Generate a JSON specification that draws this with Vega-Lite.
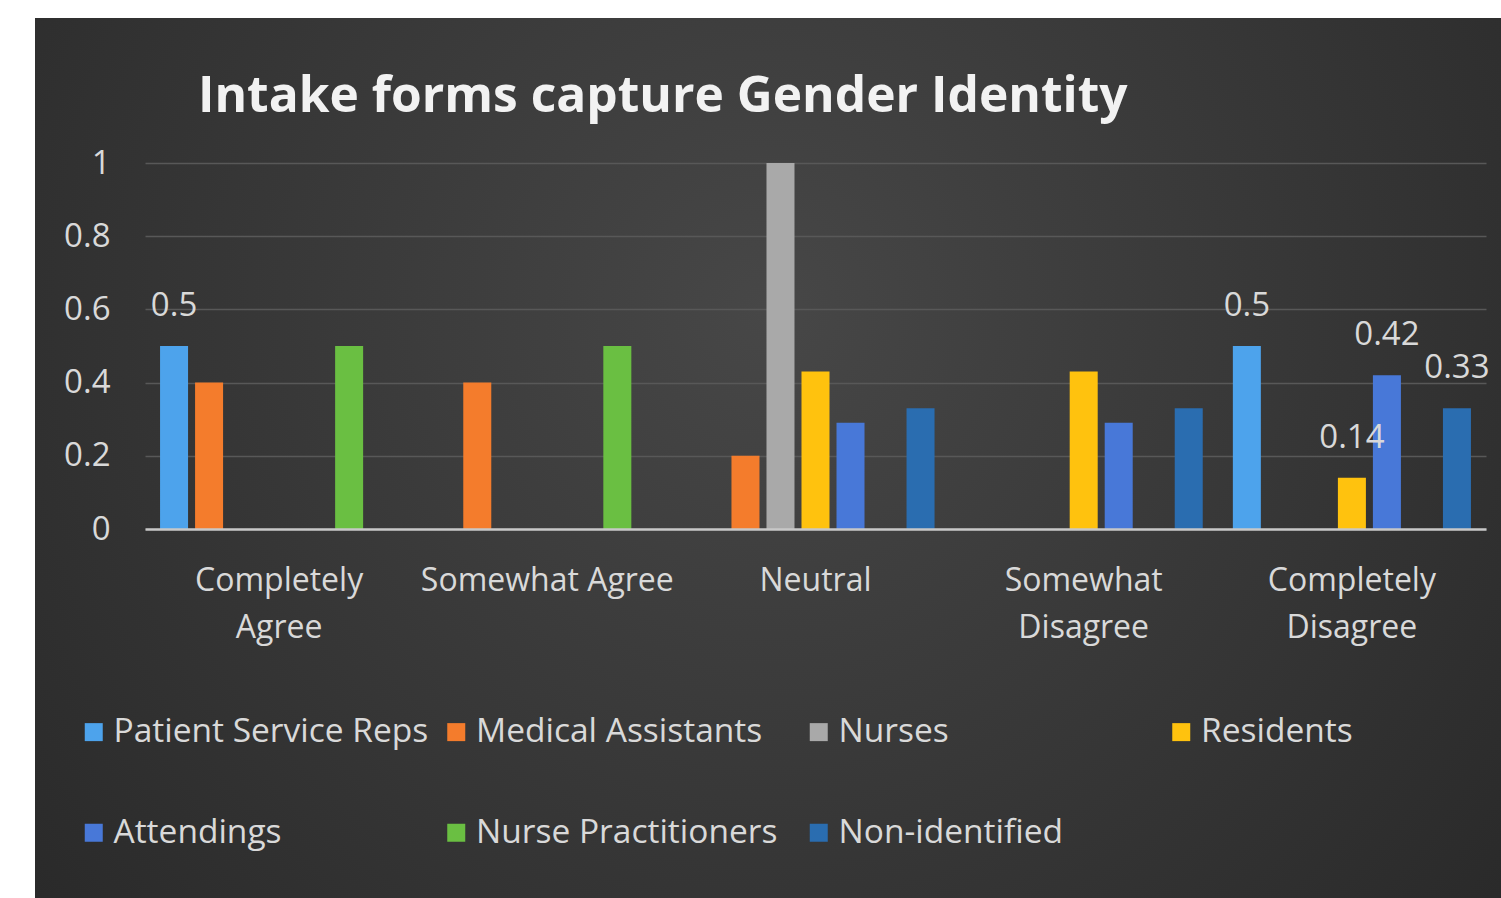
{
  "$schema": "https://vega.github.io/schema/vega-lite/v6.json",
  "width": 1466,
  "height": 880,
  "autosize": {"type": "none"},
  "padding": {"left": 35, "top": 18, "right": 0, "bottom": 0},
  "background": "#ffffff",
  "title": {
    "text": "Intake forms capture Gender Identity",
    "anchor": "start",
    "frame": "group",
    "orient": "top",
    "offset": 0,
    "dx": 163,
    "dy": 144,
    "baseline": "alphabetic",
    "font": "Open Sans",
    "fontSize": 49.7,
    "fontWeight": "bold",
    "color": "#f2f2f2"
  },
  "data": {
    "values": [
      {"response": "Completely Agree", "group": "Patient Service Reps", "value": 0.5, "label": "0.5"},
      {"response": "Completely Agree", "group": "Medical Assistants", "value": 0.4, "label": null},
      {"response": "Completely Agree", "group": "Nurse Practitioners", "value": 0.5, "label": null},
      {"response": "Somewhat Agree", "group": "Medical Assistants", "value": 0.4, "label": null},
      {"response": "Somewhat Agree", "group": "Nurse Practitioners", "value": 0.5, "label": null},
      {"response": "Neutral", "group": "Medical Assistants", "value": 0.2, "label": null},
      {"response": "Neutral", "group": "Nurses", "value": 1.0, "label": null},
      {"response": "Neutral", "group": "Residents", "value": 0.43, "label": null},
      {"response": "Neutral", "group": "Attendings", "value": 0.29, "label": null},
      {"response": "Neutral", "group": "Non-identified", "value": 0.33, "label": null},
      {"response": "Somewhat Disagree", "group": "Residents", "value": 0.43, "label": null},
      {"response": "Somewhat Disagree", "group": "Attendings", "value": 0.29, "label": null},
      {"response": "Somewhat Disagree", "group": "Non-identified", "value": 0.33, "label": null},
      {"response": "Completely Disagree", "group": "Patient Service Reps", "value": 0.5, "label": "0.5"},
      {"response": "Completely Disagree", "group": "Residents", "value": 0.14, "label": "0.14"},
      {"response": "Completely Disagree", "group": "Attendings", "value": 0.42, "label": "0.42"},
      {"response": "Completely Disagree", "group": "Non-identified", "value": 0.33, "label": "0.33"}
    ]
  },
  "encoding": {
    "x": {
      "field": "response",
      "type": "nominal",
      "sort": ["Completely Agree", "Somewhat Agree", "Neutral", "Somewhat Disagree", "Completely Disagree"],
      "scale": {"range": [110, 1451], "paddingInner": 0, "paddingOuter": 0},
      "axis": {
        "title": null,
        "orient": "bottom",
        "offset": -369,
        "ticks": false,
        "tickSize": 0,
        "domain": true,
        "domainColor": "#c8c8c8",
        "domainWidth": 2.5,
        "zindex": 1,
        "labelAngle": 0,
        "labelPadding": 36,
        "labelFont": "Open Sans",
        "labelFontSize": 32,
        "labelColor": "#d9d9d9",
        "labelLineHeight": 47,
        "labelLimit": 500,
        "labelBaseline": "top",
        "labelExpr": "datum.value == 'Somewhat Agree' || datum.value == 'Neutral' ? datum.label : split(datum.label, ' ')"
      }
    },
    "xOffset": {
      "field": "group",
      "type": "nominal",
      "scale": {
        "domain": ["Patient Service Reps", "Medical Assistants", "Nurses", "Residents", "Attendings", "Nurse Practitioners", "Non-identified"],
        "paddingInner": 0.2,
        "paddingOuter": 0.43
      }
    },
    "y": {
      "field": "value",
      "type": "quantitative",
      "scale": {"domain": [0, 1], "range": [511, 145], "nice": false, "zero": true},
      "axis": {
        "title": null,
        "orient": "left",
        "offset": -75,
        "values": [0, 0.2, 0.4, 0.6, 0.8, 1],
        "labelExpr": "'' + datum.value",
        "ticks": false,
        "tickSize": 0,
        "domain": false,
        "labelPadding": 0,
        "labelFont": "Open Sans",
        "labelFontSize": 33,
        "labelColor": "#d9d9d9",
        "grid": true,
        "gridColor": "#585858",
        "gridWidth": 1.5
      }
    }
  },
  "layer": [
    {
      "mark": {"type": "bar"},
      "encoding": {
        "color": {
          "field": "group",
          "type": "nominal",
          "scale": {
            "domain": ["Patient Service Reps", "Medical Assistants", "Nurses", "Residents", "Attendings", "Nurse Practitioners", "Non-identified"],
            "range": ["#4da3ec", "#f47c2c", "#a9a9a9", "#ffc20e", "#4878d8", "#6abf42", "#2a6db0"]
          },
          "legend": {
            "title": null,
            "orient": "none",
            "legendX": 42,
            "legendY": 697,
            "direction": "horizontal",
            "columns": 4,
            "gridAlign": "all",
            "columnPadding": 10.5,
            "rowPadding": 66,
            "padding": 0,
            "symbolType": "square",
            "symbolSize": 324,
            "symbolStrokeWidth": 0,
            "symbolOpacity": 1,
            "labelFont": "Open Sans",
            "labelFontSize": 33.5,
            "labelColor": "#d9d9d9",
            "labelOffset": 3,
            "labelLimit": 500
          }
        }
      }
    },
    {
      "transform": [{"filter": "datum.label != null"}],
      "mark": {
        "type": "text",
        "dy": -40,
        "baseline": "middle",
        "align": "center",
        "font": "Open Sans",
        "fontSize": 33,
        "color": "#d9d9d9"
      },
      "encoding": {"text": {"field": "label"}}
    }
  ],
  "config": {
    "view": {
      "stroke": null,
      "fill": {
        "gradient": "radial",
        "x1": 0.5, "y1": 0.4, "r1": 0,
        "x2": 0.5, "y2": 0.4, "r2": 0.75,
        "stops": [
          {"offset": 0, "color": "#474747"},
          {"offset": 1, "color": "#252525"}
        ]
      }
    }
  }
}
